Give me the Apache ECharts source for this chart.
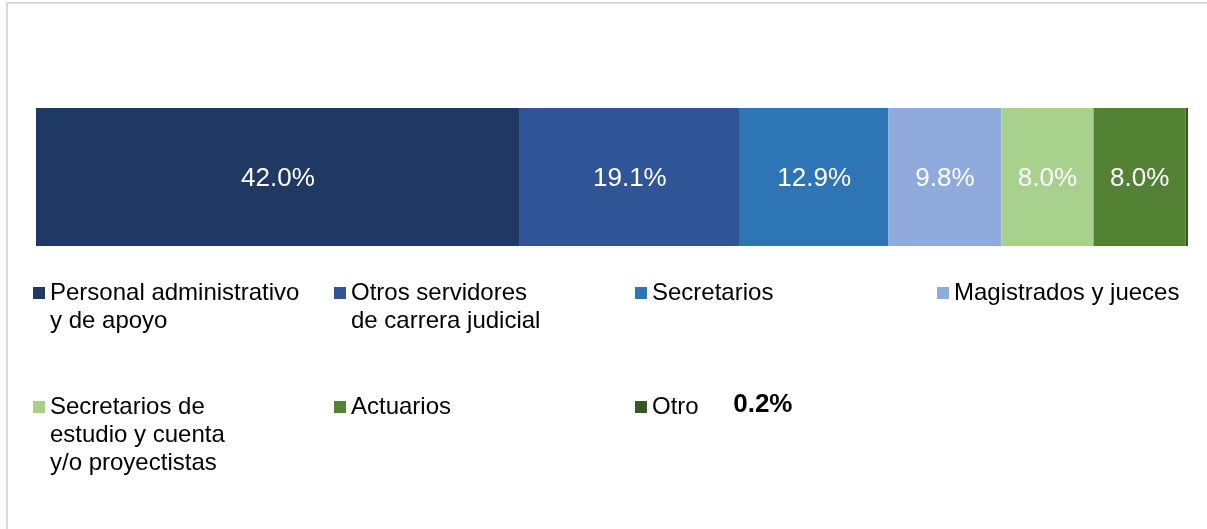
<!DOCTYPE html>
<html>
<head>
<meta charset="utf-8">
<script src="https://cdn.jsdelivr.net/npm/echarts@6/dist/echarts.min.js"></script>
<style>
html,body{margin:0;padding:0;background:#fff;}
#c{width:1207px;height:529px;}
</style>
</head>
<body>
<div id="c"></div>
<script>
const seriesNames = [
  'Personal administrativo\ny de apoyo',
  'Otros servidores\nde carrera judicial',
  'Secretarios',
  'Magistrados y jueces',
  'Secretarios de\nestudio y cuenta\ny/o proyectistas',
  'Actuarios',
  'Otro'
];
const seriesValues = [42.0, 19.1, 12.9, 9.8, 8.0, 8.0, 0.2];
const seriesColors = ['#203864', '#2F5597', '#2E75B6', '#8FAADC', '#A9D18E', '#548235', '#385723'];
const category = ['Total'];

const FONT = '"Liberation Sans", Arial, sans-serif';
const LH = 28;

// legend placement (icon left, icon top)
const legendPos = [
  [33, 287], [334, 287], [635, 287], [937, 287],
  [33, 401], [334, 401], [635, 401]
];

const legends = seriesNames.map((name, i) => {
  const n = name.split('\n').length;
  const boxTop = 6 - (2 * n - 1) * LH / 2;
  return {
    data: [name],
    left: legendPos[i][0],
    top: legendPos[i][1] + boxTop,
    padding: 0,
    itemWidth: 12,
    itemHeight: 12,
    icon: 'rect',
    selectedMode: false,
    formatter: (nm) => '\n'.repeat(nm.split('\n').length - 1) + nm,
    textStyle: {
      fontFamily: FONT,
      fontSize: 24,
      color: '#000',
      lineHeight: LH
    }
  };
});

const series = seriesNames.map((name, i) => {
  const isOther = i === seriesNames.length - 1;
  return {
    name: name,
    type: 'bar',
    stack: 'total',
    barWidth: '100%',
    itemStyle: { color: seriesColors[i] },
    emphasis: { disabled: true },
    label: isOther ? {
      show: true,
      position: 'inside',
      offset: [-424, 228],
      formatter: (p) => p.value.toFixed(1) + '%',
      fontFamily: FONT,
      fontSize: 26,
      fontWeight: 'bold',
      color: '#000'
    } : {
      show: true,
      position: 'inside',
      offset: [0, 2],
      formatter: (p) => p.value.toFixed(1) + '%',
      fontFamily: FONT,
      fontSize: 26,
      color: '#fff'
    },
    data: [seriesValues[i]]
  };
});

const chart = echarts.init(document.getElementById('c'), null, { renderer: 'canvas' });
chart.setOption({
  animation: false,
  backgroundColor: '#fff',
  grid: { left: 36, right: 19, top: 108, bottom: 283, containLabel: false },
  xAxis: { type: 'value', min: 0, max: 100, show: false },
  yAxis: { type: 'category', data: category, show: false },
  legend: legends,
  series: series,
  graphic: [
    { type: 'line', shape: { x1: 7, y1: 3, x2: 7, y2: 529 }, style: { stroke: '#d9d9d9', lineWidth: 2 }, silent: true },
    { type: 'line', shape: { x1: 6, y1: 3, x2: 1207, y2: 3 }, style: { stroke: '#d9d9d9', lineWidth: 2 }, silent: true }
  ]
});
</script>
</body>
</html>
